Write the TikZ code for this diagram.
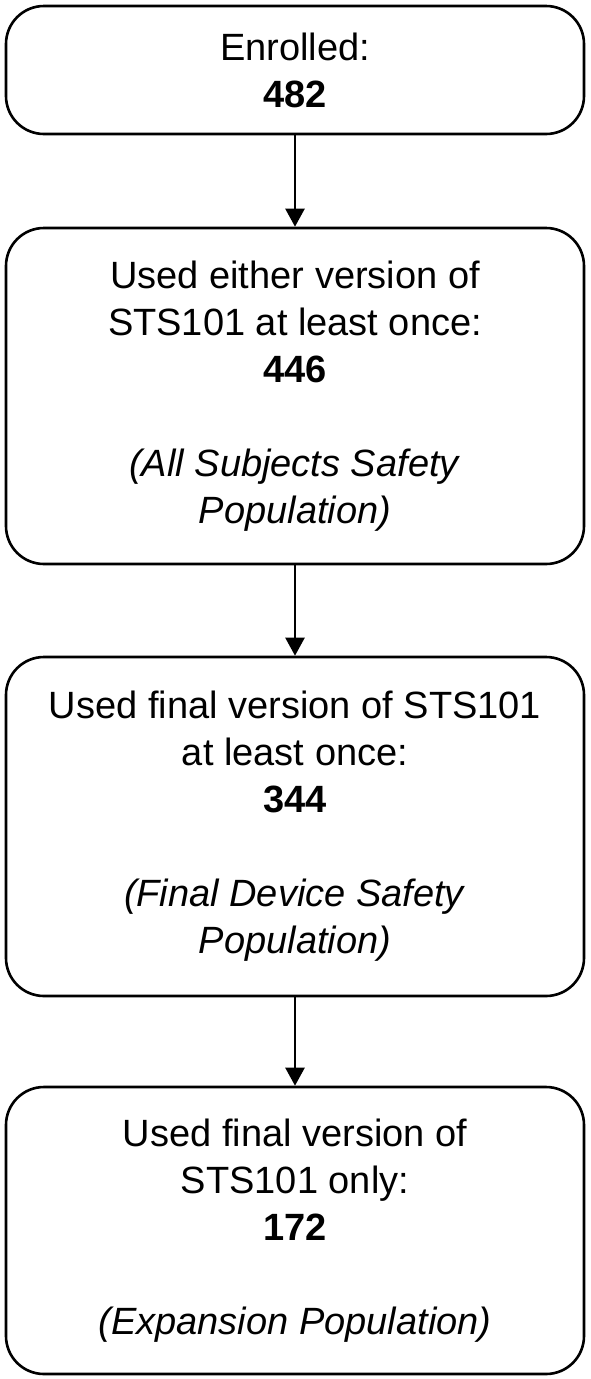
\documentclass[tikz,border=0pt]{standalone}
\usepackage{fontspec}
\setmainfont{Liberation Sans}
\usetikzlibrary{arrows.meta, positioning}

\begin{document}
\begin{tikzpicture}[x=1pt,y=1pt,
	stagebox/.style={draw, line width=2.6pt, rounded corners=38pt, align=center,
		minimum width=578pt, inner sep=0pt, font=\fontsize{38}{47}\selectfont},
	flowarrow/.style={line width=2.4pt, -{Triangle[length=18pt,width=19pt]}}]
	\useasboundingbox (0,0) rectangle (590,-1379);
	\node[stagebox, minimum height=128pt] (enrolled) at (295,-70) {Enrolled:\\\textbf{482}};
	\node[stagebox, minimum height=336pt] (either) at (295,-396)
		{Used either version of\\STS101 at least once:\\\textbf{446}\\[47pt]\textit{(All Subjects Safety}\\\textit{Population)}};
	\node[stagebox, minimum height=339pt] (final) at (295,-826.5)
		{Used final version of STS101\\at least once:\\\textbf{344}\\[47pt]\textit{(Final Device Safety}\\\textit{Population)}};
	\node[stagebox, minimum height=287pt] (only) at (295,-1230.5)
		{Used final version of\\STS101 only:\\\textbf{172}\\[47pt]\textit{(Expansion Population)}};
	\draw[flowarrow] (enrolled) -- (either);
	\draw[flowarrow] (either) -- (final);
	\draw[flowarrow] (final) -- (only);
\end{tikzpicture}
\end{document}
